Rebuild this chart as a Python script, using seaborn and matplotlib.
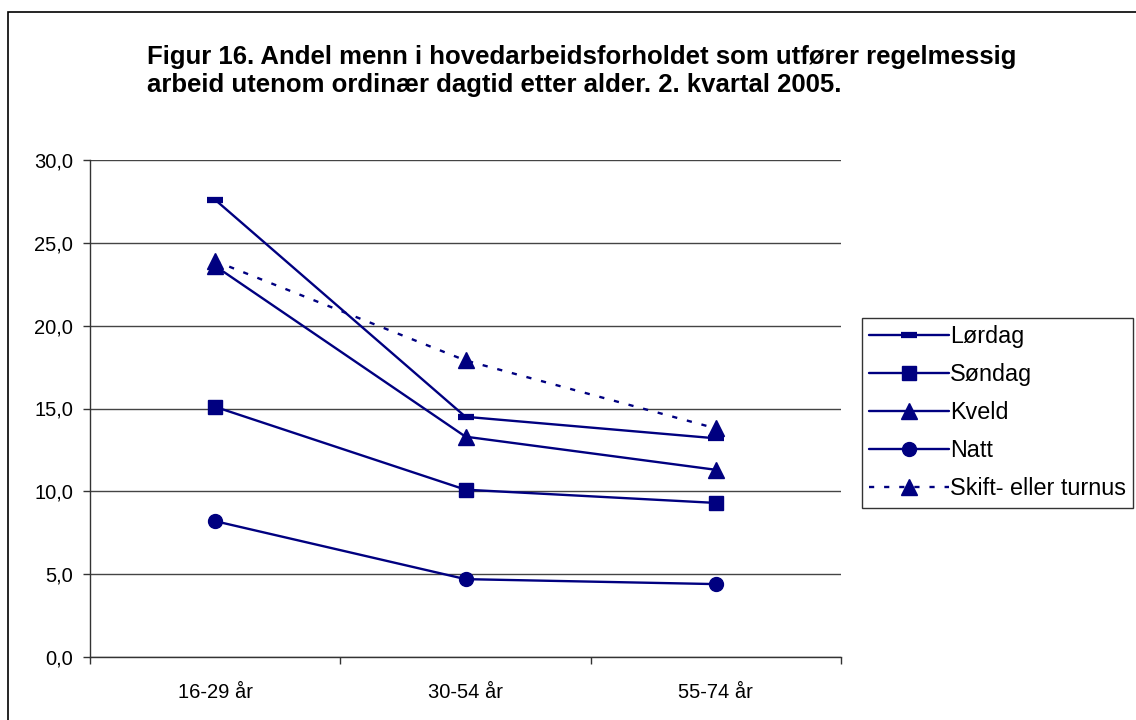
import matplotlib
matplotlib.use("Agg")
import matplotlib.pyplot as plt
import matplotlib.patches as mpatches
import seaborn as sns
import pandas as pd

categories = ["16-29 år", "30-54 år", "55-74 år"]
lordag = [27.6, 14.5, 13.2]
sondag = [15.1, 10.1, 9.3]
kveld = [23.6, 13.3, 11.3]
natt = [8.2, 4.7, 4.4]
skift = [23.9, 17.9, 13.8]
series_names = ["Lørdag", "Søndag", "Kveld", "Natt", "Skift- eller turnus"]
series_values = [lordag, sondag, kveld, natt, skift]
yticks = [0, 5, 10, 15, 20, 25, 30]
title = ("Figur 16. Andel menn i hovedarbeidsforholdet som utfører regelmessig\n"
         "arbeid utenom ordinær dagtid etter alder. 2. kvartal 2005.")

sns.set_style("white")
plt.rcParams['font.family'] = ['Liberation Sans', 'DejaVu Sans']
plt.rcParams['text.color'] = 'black'

fig = plt.figure(figsize=(11.36, 7.2), dpi=100)
ax = fig.add_axes([90/1136, 1-657/720, (841-90)/1136, (657-160)/720])

navy = "#000080"
markers = ["_", "s", "^", "o", "^"]
msizes = [11, 10.5, 11, 10, 11]
mews = [4.5, 1, 1, 1, 1]
dashes = ["-", "-", "-", "-", (0, (2.2, 4.2))]

for name, vals, mk, ms, mew, ls in zip(series_names, series_values, markers, msizes, mews, dashes):
    df = pd.DataFrame({"x": categories, "y": vals})
    sns.lineplot(data=df, x="x", y="y", ax=ax, color=navy, lw=1.7, linestyle=ls,
                 marker=mk, markersize=ms, markeredgewidth=mew, markeredgecolor=navy,
                 markerfacecolor=navy, label=name, sort=False)

ax.set_xlim(-0.5, 2.5)
ax.set_ylim(0, 30)
ax.set_yticks(yticks)
ax.set_yticklabels([f"{v:.1f}".replace(".", ",") for v in yticks], fontsize=14.5, color="black")
ax.set_xticks([0, 1, 2])
ax.set_xticklabels(categories, fontsize=14.5, color="black")
ax.set_xticks([-0.5, 0.5, 1.5, 2.5], minor=True)
ax.tick_params(axis="x", which="major", length=0, pad=19)
ax.tick_params(axis="x", which="minor", length=5, width=1, color="#333333", direction="out", bottom=True)
ax.tick_params(axis="y", length=5, width=1, color="#333333", direction="out", left=True, pad=7)
ax.set_xlabel("")
ax.set_ylabel("")
ax.yaxis.grid(True, color="#444444", lw=1)
ax.set_axisbelow(True)
for s in ["top", "right"]:
    ax.spines[s].set_visible(False)
for s in ["left", "bottom"]:
    ax.spines[s].set_color("#333333")
    ax.spines[s].set_linewidth(1)

ax.get_legend().remove()
h, l = ax.get_legend_handles_labels()
leg = fig.legend(h, l, loc="upper left", bbox_to_anchor=(862/1136, 1-318/720),
                 fontsize=16.8, frameon=True, fancybox=False, edgecolor="black",
                 handlelength=3.4, handletextpad=0.05, labelspacing=0.64,
                 borderpad=0.32, borderaxespad=0)
leg.get_frame().set_linewidth(1)
for t in leg.get_texts():
    t.set_color("black")

fig.text(147/1136, 1-45/720, title, fontsize=18.5, fontweight="bold", va="top", ha="left",
         linespacing=1.22, color="black")

fig.add_artist(mpatches.Rectangle((8/1136, -0.1), 1.2, 1-12/720+0.1, transform=fig.transFigure,
                                  fill=False, edgecolor="black", lw=1.2))

fig.savefig("out.png", dpi=100)
